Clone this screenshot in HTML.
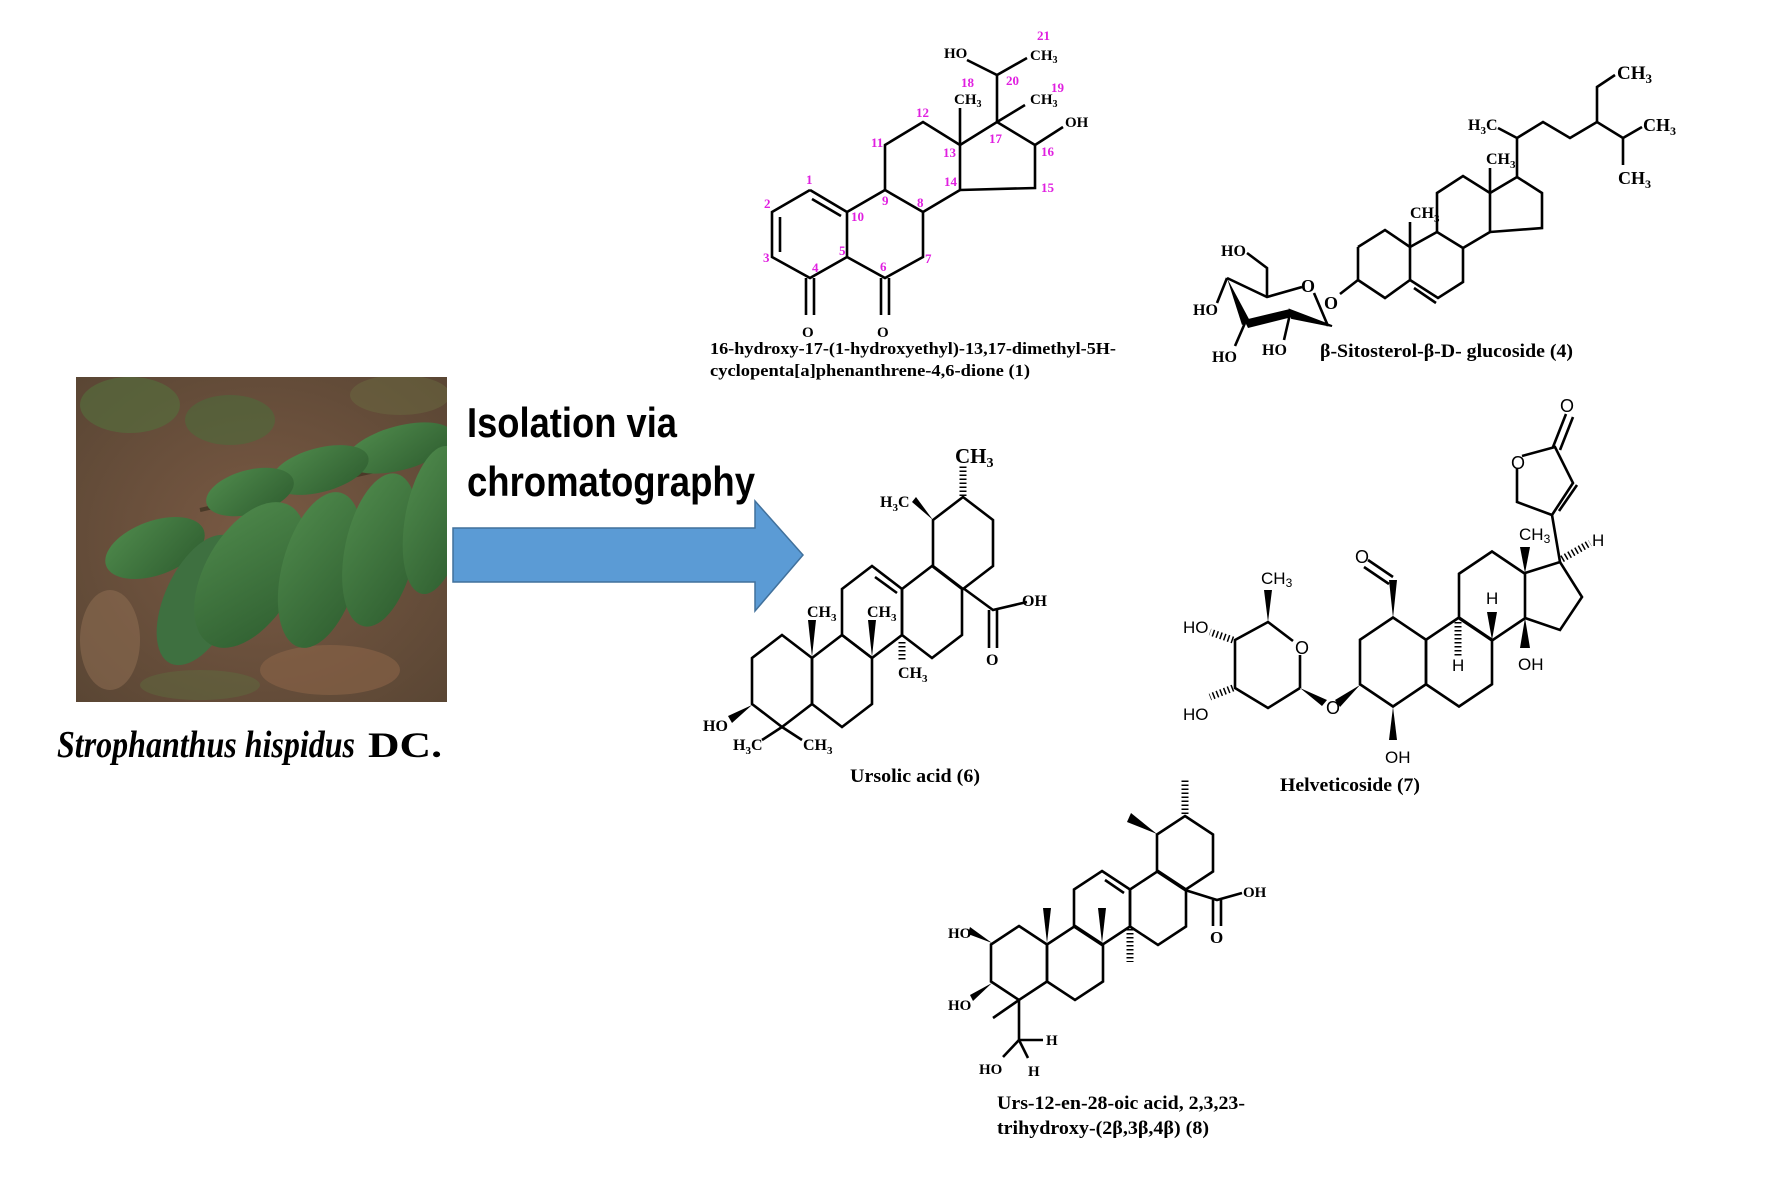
<!DOCTYPE html>
<html><head><meta charset="utf-8"><style>
html,body{margin:0;padding:0;background:#fff;}
svg{display:block}
.b{stroke:#000;stroke-width:2.6;fill:none;stroke-linejoin:miter}
.t{font-family:"Liberation Serif",serif;font-weight:bold;fill:#000}
.s{font-family:"Liberation Sans",sans-serif;fill:#000}
.p{font-family:"Liberation Serif",serif;font-weight:bold;fill:#e020e0;font-size:13px}
.h{stroke:#000;stroke-width:7;stroke-dasharray:1.5 2.5;fill:none}
</style></head><body>
<svg width="1772" height="1181" viewBox="0 0 1772 1181" xmlns="http://www.w3.org/2000/svg">
<defs>
<polygon id="hx" points="0,-1 1,-0.5 1,0.5 0,1 -1,0.5 -1,-0.5" fill="none" stroke="#000" stroke-width="2.6" vector-effect="non-scaling-stroke"/>
<radialGradient id="bg" cx="0.5" cy="0.5" r="0.7"><stop offset="0" stop-color="#7a5a44"/><stop offset="1" stop-color="#5a4634"/></radialGradient>
<linearGradient id="lf" x1="0" y1="0" x2="1" y2="1"><stop offset="0" stop-color="#4f8a4c"/><stop offset="1" stop-color="#2f5e30"/></linearGradient>
<clipPath id="pc"><rect x="76" y="377" width="371" height="325"/></clipPath>
</defs>
<rect width="1772" height="1181" fill="#fff"/>

<!-- Photo -->
<g clip-path="url(#pc)">
<rect x="76" y="377" width="371" height="325" fill="url(#bg)"/>
<ellipse cx="130" cy="405" rx="50" ry="28" fill="#556b3c" opacity="0.7"/>
<ellipse cx="230" cy="420" rx="45" ry="25" fill="#4d6a3a" opacity="0.6"/>
<ellipse cx="400" cy="395" rx="50" ry="20" fill="#6a6a40" opacity="0.5"/>
<ellipse cx="110" cy="640" rx="30" ry="50" fill="#8a6a50" opacity="0.6"/>
<ellipse cx="330" cy="670" rx="70" ry="25" fill="#8a6448" opacity="0.6"/>
<ellipse cx="200" cy="685" rx="60" ry="15" fill="#5e6a3e" opacity="0.5"/>
<line x1="200" y1="510" x2="447" y2="455" stroke="#4a3a28" stroke-width="4"/>
<ellipse cx="400" cy="448" rx="55" ry="22" transform="rotate(-15 400 448)" fill="url(#lf)"/>
<ellipse cx="320" cy="470" rx="50" ry="22" transform="rotate(-15 320 470)" fill="url(#lf)"/>
<ellipse cx="250" cy="492" rx="45" ry="22" transform="rotate(-15 250 492)" fill="url(#lf)"/>
<ellipse cx="155" cy="548" rx="52" ry="27" transform="rotate(-20 155 548)" fill="url(#lf)"/>
<ellipse cx="200" cy="600" rx="35" ry="70" transform="rotate(25 200 600)" fill="#3e7040"/>
<ellipse cx="250" cy="575" rx="45" ry="80" transform="rotate(30 250 575)" fill="url(#lf)"/>
<ellipse cx="320" cy="570" rx="38" ry="80" transform="rotate(15 320 570)" fill="url(#lf)"/>
<ellipse cx="380" cy="550" rx="35" ry="78" transform="rotate(12 380 550)" fill="url(#lf)"/>
<ellipse cx="435" cy="520" rx="30" ry="75" transform="rotate(10 435 520)" fill="url(#lf)"/>
</g>
<text x="57" y="757" class="t" font-size="38" font-style="italic" textLength="298" lengthAdjust="spacingAndGlyphs">Strophanthus hispidus</text>
<text x="368" y="757" class="t" font-size="36" textLength="74" lengthAdjust="spacingAndGlyphs">DC.</text>

<!-- Arrow -->
<polygon points="453,528 755,528 755,501 803,555 755,611 755,582 453,582" fill="#5b9bd5" stroke="#41719c" stroke-width="1.5"/>
<text x="467" y="437" class="s" font-size="42" font-weight="bold" textLength="210" lengthAdjust="spacingAndGlyphs" fill="#111">Isolation via</text>
<text x="467" y="496" class="s" font-size="42" font-weight="bold" textLength="288" lengthAdjust="spacingAndGlyphs" fill="#111">chromatography</text>

<!-- Molecule 1 -->
<g class="b">
<polyline points="810,190 772,212 772,257 810,278 847,257 847,212 810,190"/>
<line x1="812" y1="199" x2="841" y2="216"/>
<line x1="780" y1="217" x2="780" y2="252"/>
<polyline points="847,212 885,190 923,212 923,257 885,278 847,257"/>
<polyline points="885,190 885,145 923,122 960,145 960,190 923,212"/>
<polyline points="960,145 997,122 1035,145 1035,188 960,190"/>
<line x1="806" y1="278" x2="806" y2="315"/><line x1="814" y1="278" x2="814" y2="315"/>
<line x1="881" y1="278" x2="881" y2="315"/><line x1="889" y1="278" x2="889" y2="315"/>
<line x1="960" y1="145" x2="960" y2="108"/>
<line x1="997" y1="122" x2="1025" y2="105"/>
<polyline points="967,60 997,75 1027,58"/>
<line x1="997" y1="122" x2="997" y2="75"/>
<line x1="1035" y1="145" x2="1063" y2="127"/>
</g>
<g class="t" font-size="15">
<text x="802" y="337">O</text><text x="877" y="337">O</text>
<text x="954" y="104">CH<tspan font-size="10" dy="3">3</tspan></text>
<text x="1030" y="104">CH<tspan font-size="10" dy="3">3</tspan></text>
<text x="944" y="58">HO</text>
<text x="1030" y="60">CH<tspan font-size="10" dy="3">3</tspan></text>
<text x="1065" y="127">OH</text>
</g>
<g class="p">
<text x="806" y="184">1</text><text x="764" y="208">2</text><text x="763" y="262">3</text><text x="812" y="272">4</text>
<text x="839" y="255">5</text><text x="880" y="271">6</text><text x="925" y="263">7</text><text x="917" y="207">8</text>
<text x="882" y="205">9</text><text x="851" y="221">10</text><text x="871" y="147">11</text><text x="916" y="117">12</text>
<text x="943" y="157">13</text><text x="944" y="186">14</text><text x="1041" y="192">15</text><text x="1041" y="156">16</text>
<text x="989" y="143">17</text><text x="961" y="87">18</text><text x="1051" y="92">19</text><text x="1006" y="85">20</text><text x="1037" y="40">21</text>
</g>
<text x="710" y="354" class="t" font-size="17" textLength="406" lengthAdjust="spacingAndGlyphs">16-hydroxy-17-(1-hydroxyethyl)-13,17-dimethyl-5H-</text>
<text x="710" y="376" class="t" font-size="17" textLength="320" lengthAdjust="spacingAndGlyphs">cyclopenta[a]phenanthrene-4,6-dione  (1)</text>

<!-- Molecule 4 -->
<g class="b">
<polyline points="1358,247 1385,230 1410,247 1410,280 1385,298 1358,280 1358,247"/>
<polyline points="1410,247 1437,232 1463,248 1463,282 1438,298 1410,280"/>
<line x1="1414" y1="288" x2="1436" y2="303"/>
<polyline points="1437,232 1437,193 1463,176 1490,193 1490,232 1463,248"/>
<polyline points="1490,193 1517,177 1542,193 1542,228 1490,232"/>
<line x1="1410" y1="247" x2="1410" y2="222"/>
<line x1="1490" y1="193" x2="1490" y2="168"/>
<polyline points="1517,177 1517,138 1498,128"/>
<polyline points="1517,138 1543,122 1570,138 1597,122 1623,138 1642,127"/>
<polyline points="1597,122 1597,87 1615,75"/>
<line x1="1623" y1="138" x2="1623" y2="165"/>
<line x1="1358" y1="280" x2="1340" y2="294"/>
<polyline points="1328,326 1314,293"/>
<polyline points="1302,287 1267,297 1227,278"/>
<polyline points="1267,297 1267,268 1247,253"/>
<line x1="1227" y1="278" x2="1217" y2="303"/>
<line x1="1245" y1="323" x2="1235" y2="346"/>
<line x1="1290" y1="314" x2="1284" y2="340"/>
</g>
<polygon points="1227,278 1242,325 1250,321" fill="#000"/>
<polygon points="1244,320 1290,309 1292,317 1248,328" fill="#000"/>
<polygon points="1290,310 1332,326 1292,318" fill="#000" stroke="#000" stroke-width="2"/>
<g class="t" font-size="16">
<text x="1410" y="218">CH<tspan font-size="11" dy="4">3</tspan></text>
<text x="1486" y="164">CH<tspan font-size="11" dy="4">3</tspan></text>
<text x="1468" y="130">H<tspan font-size="11" dy="4">3</tspan><tspan dy="-4">C</tspan></text>
<text x="1617" y="79" font-size="19">CH<tspan font-size="13" dy="4">3</tspan></text>
<text x="1643" y="131" font-size="18">CH<tspan font-size="12" dy="4">3</tspan></text>
<text x="1618" y="184" font-size="18">CH<tspan font-size="12" dy="4">3</tspan></text>
<text x="1324" y="309" font-size="18">O</text>
<text x="1301" y="292" font-size="18">O</text>
<text x="1221" y="256">HO</text>
<text x="1193" y="315">HO</text>
<text x="1212" y="362">HO</text>
<text x="1262" y="355">HO</text>
</g>
<text x="1320" y="357" class="t" font-size="19" textLength="253" lengthAdjust="spacingAndGlyphs">β-Sitosterol-β-D- glucoside (4)</text>

<!-- Ursolic acid (6) -->
<use href="#hx" transform="translate(782,681) scale(30,46)"/>
<use href="#hx" transform="translate(842,681) scale(30,46)"/>
<use href="#hx" transform="translate(872,612) scale(30,46)"/>
<use href="#hx" transform="translate(932,612) scale(30,46)"/>
<use href="#hx" transform="translate(963,543) scale(30,46)"/>
<g class="b">
<line x1="875" y1="577" x2="897" y2="593"/>
<polyline points="963,588 993,610 1027,602"/>
<line x1="989" y1="610" x2="989" y2="648"/><line x1="997" y1="610" x2="997" y2="648"/>
<line x1="782" y1="727" x2="762" y2="740"/><line x1="782" y1="727" x2="802" y2="740"/>
</g>
<line x1="963" y1="496" x2="963" y2="464" class="h"/>
<line x1="902" y1="642" x2="902" y2="662" class="h"/>
<polygon points="933,520 912,502 916,497" fill="#000"/>
<polygon points="812,657 808,620 816,620" fill="#000"/>
<polygon points="872,657 868,620 876,620" fill="#000"/>
<polygon points="752,705 728,716 732,723" fill="#000"/>
<g class="t" font-size="16">
<text x="955" y="463" font-size="21">CH<tspan font-size="14" dy="4">3</tspan></text>
<text x="880" y="507">H<tspan font-size="11" dy="4">3</tspan><tspan dy="-4">C</tspan></text>
<text x="1022" y="606">OH</text>
<text x="986" y="665">O</text>
<text x="807" y="617">CH<tspan font-size="11" dy="4">3</tspan></text>
<text x="867" y="617">CH<tspan font-size="11" dy="4">3</tspan></text>
<text x="898" y="678">CH<tspan font-size="11" dy="4">3</tspan></text>
<text x="703" y="731">HO</text>
<text x="733" y="750">H<tspan font-size="11" dy="4">3</tspan><tspan dy="-4">C</tspan></text>
<text x="803" y="750">CH<tspan font-size="11" dy="4">3</tspan></text>
</g>
<text x="850" y="782" class="t" font-size="19" textLength="130" lengthAdjust="spacingAndGlyphs">Ursolic acid (6)</text>

<!-- Helveticoside (7) -->
<use href="#hx" transform="translate(1393,662) scale(33,44.5)"/>
<use href="#hx" transform="translate(1459,662) scale(33,44.5)"/>
<use href="#hx" transform="translate(1492,596) scale(33,44.5)"/>
<g class="b" stroke-width="2.4">
<polyline points="1525,573 1560,562 1582,597 1560,630 1525,618"/>
<line x1="1560" y1="562" x2="1552" y2="515"/>
<polyline points="1552,515 1573,483 1555,447 1522,456"/>
<polyline points="1517,468 1517,502 1552,515"/>
<line x1="1559" y1="511" x2="1577" y2="485"/>
<line x1="1553" y1="447" x2="1566" y2="414"/><line x1="1560" y1="450" x2="1573" y2="417"/>
<line x1="1393" y1="577" x2="1368" y2="560"/><line x1="1389" y1="584" x2="1364" y2="567"/>
<polyline points="1300,688 1300,655"/>
<polyline points="1293,641 1268,622 1235,640 1235,688 1268,708 1300,688"/>
</g>
<line x1="1562" y1="559" x2="1590" y2="543" class="h" stroke-width="8"/>
<line x1="1458" y1="622" x2="1458" y2="656" class="h" stroke-width="8"/>
<line x1="1233" y1="640" x2="1210" y2="632" class="h" stroke-width="8"/>
<line x1="1233" y1="688" x2="1210" y2="697" class="h" stroke-width="8"/>
<polygon points="1525,573 1520,547 1530,547" fill="#000"/>
<polygon points="1492,640 1487,612 1497,612" fill="#000"/>
<polygon points="1525,618 1520,648 1530,648" fill="#000"/>
<polygon points="1393,618 1389,580 1397,580" fill="#000"/>
<polygon points="1393,707 1389,740 1397,740" fill="#000"/>
<polygon points="1360,685 1335,700 1340,707" fill="#000"/>
<polygon points="1300,688 1327,700 1322,706" fill="#000"/>
<polygon points="1268,622 1264,590 1272,590" fill="#000"/>
<g class="s" font-size="17">
<text x="1560" y="412" font-size="18">O</text>
<text x="1511" y="469" font-size="18">O</text>
<text x="1519" y="540">CH<tspan font-size="12" dy="3">3</tspan></text>
<text x="1592" y="546">H</text>
<text x="1486" y="604">H</text>
<text x="1452" y="671">H</text>
<text x="1518" y="670">OH</text>
<text x="1355" y="563" font-size="18">O</text>
<text x="1385" y="763">OH</text>
<text x="1326" y="714" font-size="18">O</text>
<text x="1295" y="654" font-size="18">O</text>
<text x="1261" y="584">CH<tspan font-size="12" dy="3">3</tspan></text>
<text x="1183" y="633">HO</text>
<text x="1183" y="720">HO</text>
</g>
<text x="1280" y="791" class="t" font-size="19" textLength="140" lengthAdjust="spacingAndGlyphs">Helveticoside (7)</text>

<!-- Molecule 8 -->
<use href="#hx" transform="translate(1019,963) scale(28,37)"/>
<use href="#hx" transform="translate(1075,963) scale(28,37)"/>
<use href="#hx" transform="translate(1102,908) scale(28,37)"/>
<use href="#hx" transform="translate(1158,908) scale(28,37)"/>
<use href="#hx" transform="translate(1185,853) scale(28,37)"/>
<g class="b" stroke-width="2.4">
<line x1="1105" y1="880" x2="1124" y2="893"/>
<polyline points="1185,890 1217,900 1242,893"/>
<line x1="1213" y1="900" x2="1213" y2="926"/><line x1="1221" y1="900" x2="1221" y2="926"/>
<line x1="1019" y1="1000" x2="993" y2="1018"/>
<polyline points="1019,1000 1019,1040 1043,1040"/>
<line x1="1019" y1="1040" x2="1028" y2="1058"/>
<line x1="1019" y1="1040" x2="1003" y2="1057"/>
</g>
<line x1="1185" y1="814" x2="1185" y2="780" class="h"/>
<line x1="1130" y1="929" x2="1130" y2="962" class="h"/>
<polygon points="1157,834 1127,822 1131,813" fill="#000"/>
<polygon points="1047,943 1043,908 1051,908" fill="#000"/>
<polygon points="1102,943 1098,908 1106,908" fill="#000"/>
<polygon points="992,943 968,934 970,927" fill="#000"/>
<polygon points="992,983 970,995 973,1001" fill="#000"/>
<g class="t" font-size="15">
<text x="1243" y="897">OH</text>
<text x="1210" y="943" font-size="17">O</text>
<text x="948" y="938">HO</text>
<text x="948" y="1010">HO</text>
<text x="1046" y="1045">H</text>
<text x="1028" y="1076">H</text>
<text x="979" y="1074">HO</text>
</g>
<text x="997" y="1109" class="t" font-size="19" textLength="248" lengthAdjust="spacingAndGlyphs">Urs-12-en-28-oic acid, 2,3,23-</text>
<text x="997" y="1134" class="t" font-size="19" textLength="212" lengthAdjust="spacingAndGlyphs">trihydroxy-(2β,3β,4β) (8)</text>
</svg>
</body></html>
